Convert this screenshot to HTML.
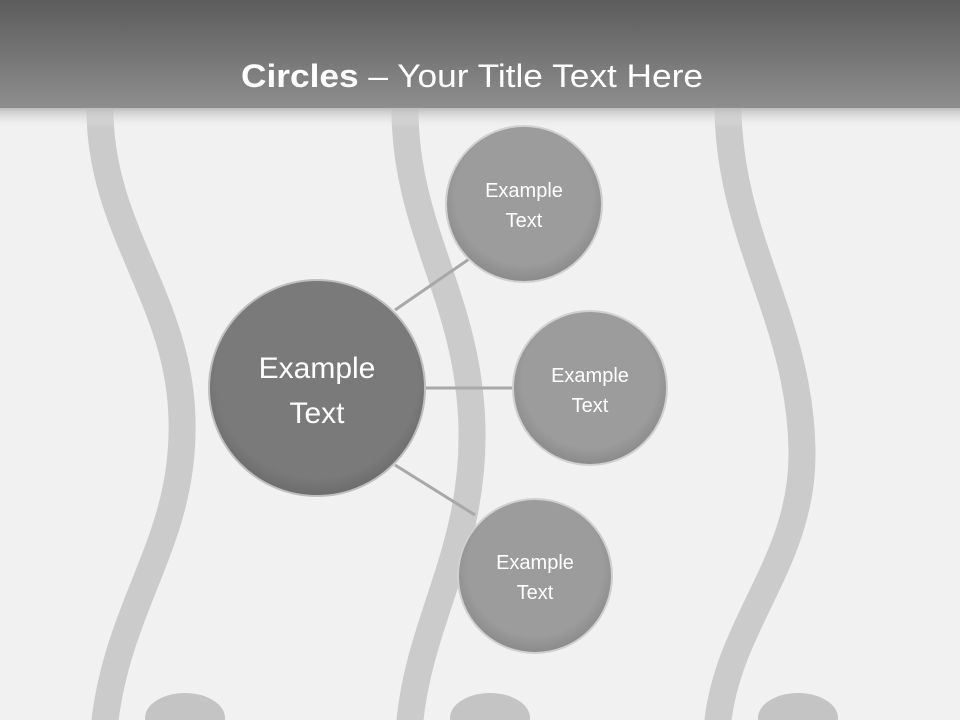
<!DOCTYPE html>
<html><head><style>html,body{margin:0;padding:0;width:960px;height:720px;overflow:hidden;background:#efefef}</style></head>
<body>
<svg width="960" height="720" viewBox="0 0 960 720" xmlns="http://www.w3.org/2000/svg" font-family="Liberation Sans, sans-serif">
<defs>
<linearGradient id="hd" x1="0" y1="0" x2="0" y2="1"><stop offset="0" stop-color="#5c5c5c"/><stop offset="1" stop-color="#8e8e8e"/></linearGradient>
<linearGradient id="sh" x1="0" y1="0" x2="0" y2="1"><stop offset="0" stop-color="#bdbdbd"/><stop offset="1" stop-color="#efefef" stop-opacity="0"/></linearGradient>
<radialGradient id="big" cx="0.5" cy="0.45" r="0.55"><stop offset="0.85" stop-color="#7a7a7a"/><stop offset="1" stop-color="#6c6c6c"/></radialGradient>
<radialGradient id="sm" cx="0.5" cy="0.45" r="0.55"><stop offset="0.8" stop-color="#9c9c9c"/><stop offset="1" stop-color="#8a8a8a"/></radialGradient>
</defs>
<rect width="960" height="720" fill="#f1f1f1"/>
<g fill="none" stroke="#cbcbcb" stroke-width="27" stroke-linecap="round">
<path d="M100 110 C100 230 180 300 182 420 C185 540 120 600 105 720"/>
<path d="M405 110 C405 230 470 300 472 430 C474 550 420 620 410 720"/>
<path d="M728 110 C730 240 800 320 802 450 C804 560 730 620 718 720"/>
</g>
<g fill="#c4c4c4">
<ellipse cx="185" cy="718" rx="40" ry="25"/>
<ellipse cx="490" cy="718" rx="40" ry="25"/>
<ellipse cx="798" cy="718" rx="40" ry="25"/>
</g>
<rect x="0" y="108" width="960" height="20" fill="url(#sh)"/>
<rect x="0" y="0" width="960" height="108" fill="url(#hd)"/>
<text x="472" y="87" text-anchor="middle" font-size="32" fill="#fff" textLength="462" lengthAdjust="spacingAndGlyphs"><tspan font-weight="bold">Circles</tspan> – Your Title Text Here</text>
<g stroke="#a8a8a8" stroke-width="3">
<line x1="395" y1="310" x2="475" y2="255"/>
<line x1="420" y1="388" x2="515" y2="388"/>
<line x1="395" y1="465" x2="475" y2="515"/>
</g>
<g stroke="#d0d0d0" stroke-width="2">
<circle cx="317" cy="388" r="108" fill="url(#big)" stroke="#bfbfbf"/>
<circle cx="524" cy="204" r="78" fill="url(#sm)"/>
<circle cx="590" cy="388" r="77" fill="url(#sm)"/>
<circle cx="535" cy="576" r="77" fill="url(#sm)"/>
</g>
<g fill="#fff" text-anchor="middle">
<text x="317" y="378" font-size="30">Example</text>
<text x="317" y="423" font-size="30">Text</text>
<g font-size="20">
<text x="524" y="197">Example</text><text x="524" y="227">Text</text>
<text x="590" y="382">Example</text><text x="590" y="412">Text</text>
<text x="535" y="569">Example</text><text x="535" y="599">Text</text>
</g>
</g>
</svg>
</body></html>
